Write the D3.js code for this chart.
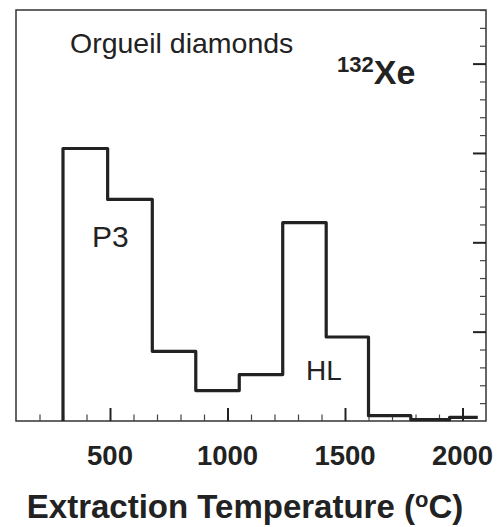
<!DOCTYPE html>
<html>
<head>
<meta charset="utf-8">
<script src="https://cdn.jsdelivr.net/npm/d3@7"></script>
<style>
  body { margin: 0; background: #fff; }
  text { font-family: "Liberation Sans", Arial, sans-serif; fill: #222; }
</style>
</head>
<body>
<div id="chart"></div>
<script>
// bin edges (deg C) and 132Xe release per step (arbitrary units)
const binEdges = [300, 490, 680, 865, 1050, 1235, 1420, 1600, 1780, 1945, 2065];
const xeRelease = [3.05, 2.48, 0.78, 0.34, 0.52, 2.22, 0.94, 0.06, 0.015, 0.04];
const xTickLabels = [500, 1000, 1500, 2000];

const W = 500, H = 527;
const frame = {left: 16, top: 10, right: 486, bottom: 421};

const x = d3.scaleLinear().domain([100, 2100]).range([frame.left, frame.right]);
const y = d3.scaleLinear().domain([0, 4.6]).range([frame.bottom, frame.top]);

const svg = d3.select("#chart")
  .append("svg")
  .attr("width", W)
  .attr("height", H);

// frame
svg.append("rect")
  .attr("x", frame.left)
  .attr("y", frame.top)
  .attr("width", frame.right - frame.left)
  .attr("height", frame.bottom - frame.top)
  .attr("fill", "none")
  .attr("stroke", "#333")
  .attr("stroke-width", 1.5);

// bottom axis: minor ticks every 100, major every 500, pointing inward
const xMinor = d3.range(200, 2100, 100).filter(d => d % 500 !== 0);
const xMajor = xTickLabels;
svg.append("g")
  .attr("transform", `translate(0,${frame.bottom})`)
  .call(d3.axisTop(x).tickValues(xMinor).tickSize(6.5).tickFormat(""))
  .call(g => g.select(".domain").remove())
  .call(g => g.selectAll("line").attr("stroke", "#444").attr("stroke-width", 1.2));
svg.append("g")
  .attr("transform", `translate(0,${frame.bottom})`)
  .call(d3.axisTop(x).tickValues(xMajor).tickSize(13).tickFormat(""))
  .call(g => g.select(".domain").remove())
  .call(g => g.selectAll("line").attr("stroke", "#222").attr("stroke-width", 2));

// tick labels under axis
svg.append("g")
  .selectAll("text")
  .data(xTickLabels)
  .join("text")
  .attr("x", d => x(d))
  .attr("y", 465)
  .attr("text-anchor", "middle")
  .attr("font-size", 27.5)
  .attr("font-weight", "bold")
  .text(d => d);

// right axis ticks, pointing inward
const yMinor = d3.range(0.2, 4.61, 0.2).filter(d => Math.abs(d - Math.round(d)) > 0.01);
const yMajor = [1, 2, 3, 4];
svg.append("g")
  .attr("transform", `translate(${frame.right},0)`)
  .call(d3.axisLeft(y).tickValues(yMinor).tickSize(6).tickFormat(""))
  .call(g => g.select(".domain").remove())
  .call(g => g.selectAll("line").attr("stroke", "#444").attr("stroke-width", 1.2));
svg.append("g")
  .attr("transform", `translate(${frame.right},0)`)
  .call(d3.axisLeft(y).tickValues(yMajor).tickSize(13).tickFormat(""))
  .call(g => g.select(".domain").remove())
  .call(g => g.selectAll("line").attr("stroke", "#222").attr("stroke-width", 2));

// stepped histogram outline
const pts = [[binEdges[0], 0]];
xeRelease.forEach((v, i) => {
  pts.push([binEdges[i], v]);
  pts.push([binEdges[i + 1], v]);
});
const line = d3.line().x(d => x(d[0])).y(d => y(d[1]));
svg.append("path")
  .attr("d", line(pts))
  .attr("fill", "none")
  .attr("stroke", "#222")
  .attr("stroke-width", 3.2)
  .attr("stroke-linejoin", "round");

// annotations
svg.append("text")
  .attr("x", 70).attr("y", 53)
  .attr("font-size", 28.5)
  .text("Orgueil diamonds");

const iso = svg.append("text")
  .attr("x", 337).attr("y", 84)
  .attr("font-weight", "bold");
iso.append("tspan").attr("font-size", 22).attr("dy", -12).text("132");
iso.append("tspan").attr("font-size", 34).attr("dy", 12).text("Xe");

svg.append("text")
  .attr("x", 92).attr("y", 247)
  .attr("font-size", 30)
  .text("P3");

svg.append("text")
  .attr("x", 306).attr("y", 380)
  .attr("font-size", 28)
  .text("HL");

// axis title
const title = svg.append("text")
  .attr("x", 245).attr("y", 518)
  .attr("text-anchor", "middle")
  .attr("font-size", 33)
  .attr("font-weight", "bold");
title.append("tspan").text("Extraction Temperature (");
title.append("tspan").attr("font-size", 22).attr("dy", -11).text("o");
title.append("tspan").attr("dy", 11).text("C)");
</script>
</body>
</html>
